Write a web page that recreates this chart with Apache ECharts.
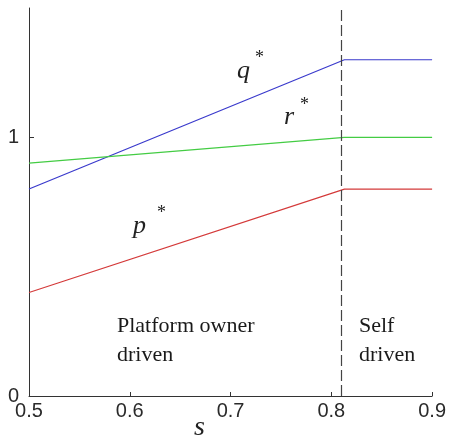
<!DOCTYPE html>
<html>
<head>
<meta charset="utf-8">
<script src="https://cdn.jsdelivr.net/npm/echarts@6/dist/echarts.min.js"></script>
<style>
html,body{margin:0;padding:0;background:#fff;}
#chart{width:449px;height:442px;}
</style>
</head>
<body>
<div id="chart"></div>
<script>
// Data
const sValues = [0.5, 0.813, 0.9];
const pValues = [0.4, 0.8, 0.8];
const qValues = [0.8, 1.3, 1.3];
const rValues = [0.9, 1.0, 1.0];
const thresholdS = 0.813;
const xTickLabels = [0.5, 0.6, 0.7, 0.8, 0.9];
const yTickLabels = [0, 1];
const regionLeftText = ['Platform owner', 'driven'];
const regionRightText = ['Self', 'driven'];

function pairs(xs, ys) { return xs.map((x, i) => [x, ys[i]]); }

const chart = echarts.init(document.getElementById('chart'));
const axisFont = { fontFamily: '"Liberation Sans", Arial, sans-serif', fontSize: 20, color: '#2a2a2a' };
const serif = '"Liberation Serif", "Times New Roman", serif';

chart.setOption({
  animation: false,
  backgroundColor: '#fff',
  grid: { left: 29, right: 15, top: 8, bottom: 46, containLabel: false },
  xAxis: {
    type: 'value', min: 0.5, max: 0.9, interval: 0.1,
    axisLine: { show: true, onZero: false, lineStyle: { color: '#333', width: 1 } },
    axisTick: { show: true, inside: true, length: 4, lineStyle: { color: '#333' } },
    splitLine: { show: false },
    axisLabel: Object.assign({ margin: 5, formatter: v => xTickLabels.find(t => Math.abs(t - v) < 1e-9) !== undefined ? v.toFixed(1) : '' }, axisFont)
  },
  yAxis: {
    type: 'value', min: 0, max: 1.5, interval: 1,
    axisLine: { show: true, onZero: false, lineStyle: { color: '#333', width: 1 } },
    axisTick: { show: true, inside: true, length: 5, lineStyle: { color: '#333' } },
    splitLine: { show: false },
    axisLabel: Object.assign({ margin: 10, showMaxLabel: false, formatter: v => yTickLabels.includes(v) ? String(v) : '' }, axisFont)
  },
  series: [
    { name: 'q*', type: 'line', data: pairs(sValues, qValues), showSymbol: false, lineStyle: { color: '#3a3acc', width: 1.2 } },
    { name: 'r*', type: 'line', data: pairs(sValues, rValues), showSymbol: false, lineStyle: { color: '#44cc44', width: 1.2 } },
    { name: 'p*', type: 'line', data: pairs(sValues, pValues), showSymbol: false, lineStyle: { color: '#d43a3a', width: 1.2 },
      markLine: { silent: true, symbol: ['none', 'none'], label: { show: false },
        lineStyle: { color: '#444', type: [11, 4], width: 1.2 },
        data: [{ xAxis: thresholdS }] } }
  ],
  graphic: [
    { type: 'text', left: 237, top: 58, style: { text: 'q', font: 'italic 26px ' + serif, fill: '#222' } },
    { type: 'text', left: 255, top: 49, style: { text: '*', font: '18px ' + serif, fill: '#222' } },
    { type: 'text', left: 284, top: 104, style: { text: 'r', font: 'italic 26px ' + serif, fill: '#222' } },
    { type: 'text', left: 300, top: 96, style: { text: '*', font: '18px ' + serif, fill: '#222' } },
    { type: 'text', left: 133, top: 213, style: { text: 'p', font: 'italic 26px ' + serif, fill: '#222' } },
    { type: 'text', left: 157, top: 204, style: { text: '*', font: '18px ' + serif, fill: '#222' } },
    { type: 'text', left: 194, top: 414, style: { text: 's', font: 'italic 28px ' + serif, fill: '#222' } },
    { type: 'text', left: 117, top: 312, style: { text: regionLeftText.join('\n'), font: '22px ' + serif, lineHeight: 29, fill: '#1a1a1a' } },
    { type: 'text', left: 359, top: 312, style: { text: regionRightText.join('\n'), font: '22px ' + serif, lineHeight: 29, fill: '#1a1a1a' } }
  ]
});
</script>
</body>
</html>
